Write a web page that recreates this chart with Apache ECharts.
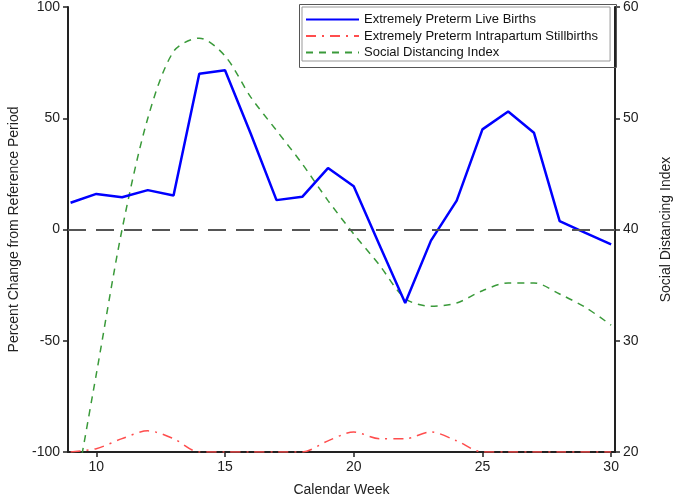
<!DOCTYPE html>
<html>
<head>
<meta charset="utf-8">
<script src="https://cdn.jsdelivr.net/npm/echarts@6/dist/echarts.min.js"></script>
<style>
  html, body { margin: 0; padding: 0; background: #fff; }
  #chart { width: 675px; height: 500px; }
</style>
</head>
<body>
<div id="chart"></div>
<script>
var weeks = [9, 10, 11, 12, 13, 14, 15, 16, 17, 18, 19, 20, 21, 22, 23, 24, 25, 26, 27, 28, 29, 30]
var liveBirths = [12, 16, 14.5, 17.7, 15.3, 70, 71.6, 43, 13.2, 14.7, 27.6, 19.4, -7, -33, -5, 13, 45, 53, 43.5, 3.8, -1.5, -6.7]
var stillbirths = [-100, -98.5, -94, -90.5, -94, -100, -100, -100, -100, -100, -95, -91, -94, -94, -91, -95, -100, -100, -100, -100, -100, -100]
var distancing = [14, 27, 40, 50, 56, 57.2, 55.6, 51.9, 48.9, 45.9, 42.6, 39.6, 36.8, 33.8, 33.1, 33.4, 34.5, 35.2, 35.2, 34.2, 33, 31.4]
var weekTicks = [10, 15, 20, 25, 30]

function pairs(vals) {
  return weeks.map(function (w, i) { return [w, vals[i]] })
}

var font = 'Liberation Sans, Arial, sans-serif'
var axisLine = { lineStyle: { color: '#222', width: 2 } }
var axisTick = { length: 5, lineStyle: { color: '#222', width: 1.5 } }
var axisLabel = { color: '#222', fontSize: 14, fontFamily: font }
var nameStyle = { color: '#222', fontSize: 14, fontFamily: font }

var chart = echarts.init(document.getElementById('chart'))
chart.setOption({
  animation: false,
  grid: { left: 68, right: 60, top: 7, bottom: 48, outerBoundsMode: 'none' },
  // outer frame of the legend box
  graphic: [{
    type: 'rect',
    left: 297,
    top: 2,
    shape: { width: 317, height: 63 },
    style: { fill: null, stroke: '#555', lineWidth: 1 },
    z: 100
  }],
  legend: {
    orient: 'vertical',
    left: 302,
    top: 7,
    itemWidth: 53,
    itemHeight: 14,
    itemGap: 3.5,
    padding: [6, 12, 2, 3],
    borderColor: '#999',
    borderWidth: 1,
    backgroundColor: '#fff',
    itemStyle: { opacity: 0 },
    textStyle: { color: '#111', fontSize: 13, fontFamily: font },
    data: ['Extremely Preterm Live Births', 'Extremely Preterm Intrapartum Stillbirths', 'Social Distancing Index']
  },
  xAxis: {
    type: 'value',
    min: 8.9,
    max: 30.15,
    name: 'Calendar Week',
    nameLocation: 'middle',
    nameGap: 31,
    nameTextStyle: nameStyle,
    axisLine: Object.assign({ onZero: false }, axisLine),
    axisTick: Object.assign({ customValues: weekTicks }, axisTick),
    axisLabel: Object.assign({ customValues: weekTicks }, axisLabel),
    splitLine: { show: false }
  },
  yAxis: [{
    type: 'value',
    min: -100,
    max: 100,
    interval: 50,
    name: 'Percent Change from Reference Period',
    nameLocation: 'middle',
    nameGap: 46,
    nameTextStyle: nameStyle,
    axisLine: Object.assign({ show: true }, axisLine),
    axisTick: axisTick,
    axisLabel: axisLabel,
    splitLine: { show: false }
  }, {
    type: 'value',
    min: 20,
    max: 60,
    interval: 10,
    name: 'Social Distancing Index',
    nameLocation: 'middle',
    nameGap: 44,
    nameRotate: 90,
    nameTextStyle: nameStyle,
    axisLine: Object.assign({ show: true }, axisLine),
    axisTick: axisTick,
    axisLabel: axisLabel,
    splitLine: { show: false }
  }],
  series: [{
    name: 'Extremely Preterm Live Births',
    type: 'line',
    yAxisIndex: 0,
    symbol: 'none',
    z: 4,
    lineStyle: { color: '#0000ff', width: 2.5 },
    itemStyle: { color: '#0000ff' },
    data: pairs(liveBirths),
    markLine: {
      silent: true,
      symbol: 'none',
      label: { show: false },
      lineStyle: { color: '#555', type: [18, 10], width: 2 },
      data: [{ yAxis: 0 }]
    }
  }, {
    name: 'Extremely Preterm Intrapartum Stillbirths',
    type: 'line',
    yAxisIndex: 0,
    symbol: 'none',
    smooth: 0.3,
    lineStyle: { color: '#ff4d4d', width: 1.5, type: [10, 6, 2, 6] },
    itemStyle: { color: '#ff4d4d' },
    data: pairs(stillbirths)
  }, {
    name: 'Social Distancing Index',
    type: 'line',
    yAxisIndex: 1,
    symbol: 'none',
    smooth: 0.3,
    lineStyle: { color: '#3a9a3a', width: 1.5, type: [7, 6] },
    itemStyle: { color: '#3a9a3a' },
    data: pairs(distancing)
  }]
})
</script>
</body>
</html>
